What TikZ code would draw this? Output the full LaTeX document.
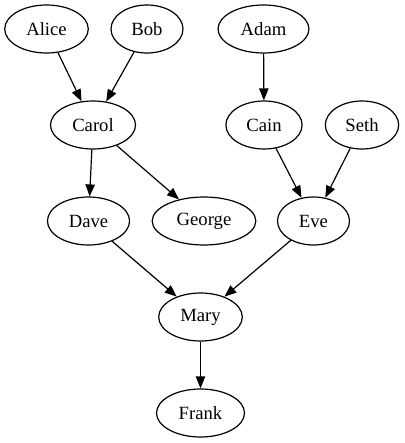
\documentclass[tikz,border=0pt]{standalone}
\usepackage{fontspec}
\setmainfont{Liberation Serif}
\usetikzlibrary{shapes.geometric, arrows.meta}

\begin{document}
\begin{tikzpicture}[x=0.75pt, y=-0.75pt,
  person/.style={draw, ellipse, line width=0.9pt, minimum width=54pt, minimum height=36pt,
    inner xsep=7pt, inner ysep=0pt, font=\fontsize{14}{16}\selectfont},
  edge/.style={-{Triangle[length=9pt, width=7pt]}, line width=0.9pt}]
  \useasboundingbox (0,0) rectangle (404,443);

  % First row
  \node[person] (alice) at (46.5, 29) {Alice};
  \node[person] (bob) at (147, 29) {Bob};
  \node[person] (adam) at (263.5, 29) {Adam};

  % Second row
  \node[person] (carol) at (93, 125) {Carol};
  \node[person] (cain) at (264, 125) {Cain};
  \node[person] (seth) at (362, 125) {Seth};

  % Third row
  \node[person] (dave) at (88.5, 221) {Dave};
  \node[person] (george) at (204, 221) {George};
  \node[person] (eve) at (313.5, 221) {Eve};

  % Last rows
  \node[person] (mary) at (200.5, 317) {Mary};
  \node[person] (frank) at (200.5, 413) {Frank};

  % Parents
  \draw[edge] (alice) -- (carol);
  \draw[edge] (bob) -- (carol);
  \draw[edge] (adam) -- (cain);
  \draw[edge] (carol) -- (dave);
  \draw[edge] (carol) -- (george);
  \draw[edge] (cain) -- (eve);
  \draw[edge] (seth) -- (eve);
  \draw[edge] (dave) -- (mary);
  \draw[edge] (eve) -- (mary);
  \draw[edge] (mary) -- (frank);
\end{tikzpicture}
\end{document}
